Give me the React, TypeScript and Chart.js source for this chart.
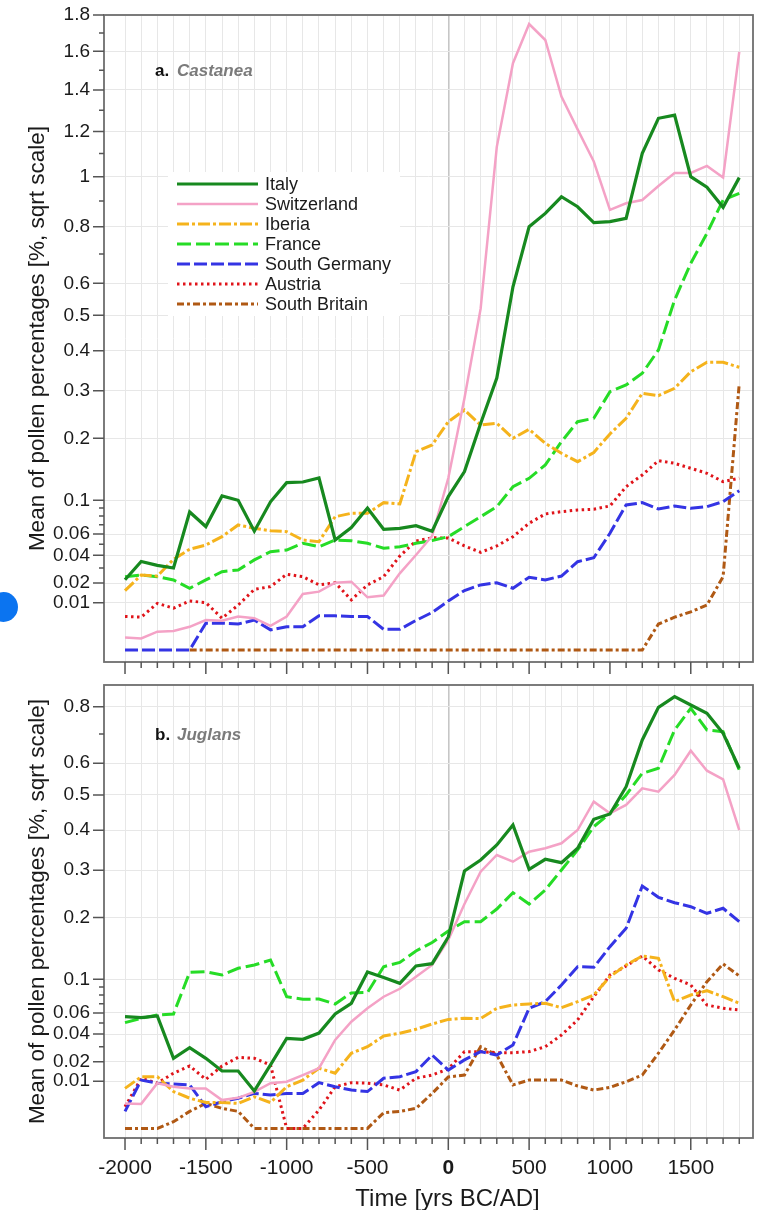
import React, { useEffect, useRef } from "react";
import { Chart, registerables } from "chart.js";

Chart.register(...registerables);

const FONT = '"Liberation Sans", Arial, Helvetica, sans-serif';

// ---------------- data ----------------
const YEARS = [
  -2000, -1900, -1800, -1700, -1600, -1500, -1400, -1300, -1200, -1100,
  -1000, -900, -800, -700, -600, -500, -400, -300, -200, -100,
  0, 100, 200, 300, 400, 500, 600, 700, 800, 900,
  1000, 1100, 1200, 1300, 1400, 1500, 1600, 1700, 1800,
];

const SERIES_NAMES = ["Italy", "Switzerland", "Iberia", "France", "South Germany", "Austria", "South Britain"];

// a. Castanea (mean pollen %)
const CASTANEA_ITALY = [
  0.022, 0.035, 0.032, 0.030, 0.085, 0.068, 0.106, 0.100, 0.063, 0.098,
  0.125, 0.126, 0.132, 0.054, 0.067, 0.090, 0.065, 0.066, 0.069, 0.063,
  0.105, 0.142, 0.229, 0.330, 0.589, 0.800, 0.851, 0.917, 0.877, 0.815,
  0.819, 0.832, 1.101, 1.262, 1.277, 1.000, 0.956, 0.875, 0.996,
];
const CASTANEA_SWITZERLAND = [
  0.0007, 0.0006, 0.0015, 0.0016, 0.0024, 0.0040, 0.0038, 0.0050, 0.0045, 0.0026,
  0.0050, 0.0140, 0.0152, 0.0202, 0.0208, 0.0124, 0.0132, 0.0262, 0.0403, 0.058,
  0.132, 0.283, 0.52, 1.13, 1.537, 1.749, 1.661, 1.367, 1.21, 1.065,
  0.865, 0.891, 0.904, 0.961, 1.016, 1.016, 1.046, 0.997, 1.597,
];
const CASTANEA_IBERIA = [
  0.0157, 0.0251, 0.0244, 0.0367, 0.0453, 0.0492, 0.0573, 0.0698, 0.0661, 0.0635,
  0.0625, 0.054, 0.0524, 0.0793, 0.0834, 0.0834, 0.0969, 0.0952, 0.1755, 0.1876,
  0.2327, 0.2571, 0.226, 0.2294, 0.2001, 0.2174, 0.1907, 0.1727, 0.1583, 0.1741,
  0.2083, 0.2397, 0.2942, 0.2887, 0.3057, 0.3457, 0.3695, 0.3695, 0.3568,
];
const CASTANEA_FRANCE = [
  0.024, 0.0251, 0.024, 0.0219, 0.017, 0.0219, 0.0274, 0.0286, 0.0362, 0.0431,
  0.0446, 0.0508, 0.0476, 0.054, 0.0533, 0.0508, 0.0462, 0.0476, 0.0508, 0.0535,
  0.0573, 0.0679, 0.0793, 0.0917, 0.119, 0.1316, 0.1528, 0.1937, 0.2327, 0.2397,
  0.2978, 0.3135, 0.3418, 0.4018, 0.5469, 0.6675, 0.7751, 0.904, 0.931,
];
const CASTANEA_SOUTH_GERMANY = [
  0, 0, 0, 0, 0, 0.0032, 0.0032, 0.0030, 0.0040, 0.0018,
  0.0024, 0.0024, 0.0052, 0.0052, 0.0050, 0.0050, 0.0019, 0.0019, 0.0039, 0.0063,
  0.0107, 0.0158, 0.0189, 0.0202, 0.017, 0.0236, 0.0219, 0.0244, 0.0348, 0.038,
  0.0608, 0.0939, 0.0969, 0.0888, 0.0926, 0.0896, 0.0917, 0.0982, 0.1133,
];
const CASTANEA_AUSTRIA = [
  0.0050, 0.0048, 0.0097, 0.0078, 0.0107, 0.0100, 0.0045, 0.0090, 0.0164, 0.0179,
  0.0256, 0.024, 0.0189, 0.0202, 0.0112, 0.0189, 0.024, 0.0394, 0.053, 0.0562,
  0.056, 0.0483, 0.0426, 0.0483, 0.0573, 0.0717, 0.0826, 0.0854, 0.0875, 0.0884,
  0.0926, 0.119, 0.1367, 0.16, 0.1556, 0.1474, 0.1394, 0.1265, 0.1316,
];
const CASTANEA_SOUTH_BRITAIN = [
  null, null, null, null, 0, 0, 0, 0, 0, 0,
  0, 0, 0, 0, 0, 0, 0, 0, 0, 0,
  0, 0, 0, 0, 0, 0, 0, 0, 0, 0,
  0, 0, 0, 0.003, 0.0048, 0.0065, 0.009, 0.024, 0.3175,
];

// b. Juglans (mean pollen %)
const JUGLANS_ITALY = [
  0.0561, 0.0551, 0.0568, 0.0221, 0.0293, 0.0221, 0.0148, 0.0148, 0.0063, 0.0181,
  0.0365, 0.0357, 0.0409, 0.0589, 0.0704, 0.110, 0.1024, 0.0947, 0.1186, 0.122,
  0.1648, 0.298, 0.324, 0.3613, 0.414, 0.302, 0.3257, 0.3176, 0.3529, 0.4298,
  0.4446, 0.5252, 0.6786, 0.7976, 0.8383, 0.8064, 0.7751, 0.7022, 0.5833,
];
const JUGLANS_SWITZERLAND = [
  0.0028, 0.0027, 0.0092, 0.0078, 0.0072, 0.0072, 0.0036, 0.0042, 0.0060, 0.0092,
  0.0098, 0.0128, 0.0163, 0.0352, 0.0512, 0.0649, 0.078, 0.0877, 0.1035, 0.1201,
  0.1597, 0.2265, 0.2964, 0.3362, 0.3199, 0.3444, 0.3529, 0.3656, 0.4005, 0.4801,
  0.4466, 0.4705, 0.5203, 0.5099, 0.5618, 0.6417, 0.5755, 0.5482, 0.4005,
];
const JUGLANS_IBERIA = [
  0.0072, 0.012, 0.012, 0.0061, 0.0041, 0.0030, 0.0030, 0.0028, 0.0045, 0.0030,
  0.0078, 0.0105, 0.0163, 0.0137, 0.0254, 0.030, 0.0384, 0.0407, 0.0442, 0.049,
  0.0534, 0.0545, 0.0542, 0.0649, 0.0685, 0.0696, 0.0704, 0.0655, 0.0722, 0.08,
  0.1035, 0.1201, 0.1337, 0.1302, 0.0722, 0.08, 0.0853, 0.078, 0.0704,
];
const JUGLANS_FRANCE = [
  0.0503, 0.0545, 0.0578, 0.0589, 0.1096, 0.1105, 0.1058, 0.1153, 0.1201, 0.1276,
  0.078, 0.075, 0.0753, 0.0696, 0.0825, 0.0831, 0.1176, 0.1238, 0.1416, 0.1555,
  0.1753, 0.1922, 0.1922, 0.2165, 0.2499, 0.2265, 0.2557, 0.3003, 0.3487, 0.4095,
  0.4466, 0.5, 0.5672, 0.5833, 0.714, 0.7939, 0.714, 0.7079, 0.5778,
];
const JUGLANS_SOUTH_GERMANY = [
  0.0013, 0.0105, 0.0092, 0.0089, 0.0085, 0.0021, 0.0032, 0.0041, 0.0055, 0.0050,
  0.0055, 0.0055, 0.0094, 0.0078, 0.0066, 0.0061, 0.0113, 0.012, 0.0145, 0.0242,
  0.0153, 0.0211, 0.0265, 0.0242, 0.0313, 0.0649, 0.0722, 0.0925, 0.1176, 0.1167,
  0.1485, 0.1801, 0.2643, 0.2402, 0.2291, 0.2211, 0.2081, 0.2179, 0.1922,
];
const JUGLANS_AUSTRIA = [
  0.0021, 0.0113, 0.0092, 0.0137, 0.0175, 0.0108, 0.0175, 0.0227, 0.0221, 0.0181,
  0, 0, 0.0015, 0.0078, 0.0094, 0.0092, 0.0085, 0.0066, 0.0113, 0.0128,
  0.0159, 0.0265, 0.0265, 0.0258, 0.0258, 0.0265, 0.030, 0.0392, 0.0529, 0.078,
  0.1058, 0.1186, 0.1337, 0.1129, 0.1013, 0.0925, 0.0685, 0.0649, 0.0631,
];
const JUGLANS_SOUTH_BRITAIN = [
  0, 0, 0, 0.0002, 0.0013, 0.0028, 0.0018, 0.0013, 0, 0,
  0, 0, 0, 0, 0, 0, 0.0011, 0.0013, 0.0018, 0.0055,
  0.0119, 0.0128, 0.030, 0.0242, 0.0085, 0.0105, 0.0105, 0.0105, 0.0081, 0.0066,
  0.0076, 0.0098, 0.0128, 0.0254, 0.0436, 0.0685, 0.0968, 0.1216, 0.1045,
];

// tick labels
const X_TICK_LABELS = [-2000, -1500, -1000, -500, 0, 500, 1000, 1500];
const Y_TICKS_A = [0.01, 0.02, 0.04, 0.06, 0.1, 0.2, 0.3, 0.4, 0.5, 0.6, 0.8, 1, 1.2, 1.4, 1.6, 1.8];
const Y_MINOR_A = [0.03, 0.05, 0.07, 0.08, 0.09, 0.7, 0.9, 1.1, 1.3, 1.5, 1.7];
const Y_TICKS_B = [0.01, 0.02, 0.04, 0.06, 0.1, 0.2, 0.3, 0.4, 0.5, 0.6, 0.8];
const Y_MINOR_B = [0.03, 0.05, 0.07, 0.08, 0.09, 0.7];

const Y_TITLE = "Mean of pollen percentages [%, sqrt scale]";
const X_TITLE = "Time [yrs BC/AD]";
const PANEL_A_LABEL = ["a.", "Castanea"];
const PANEL_B_LABEL = ["b.", "Juglans"];

// ---------------- styles ----------------
const STYLES = [
  { color: "#17891f", width: 3.2, dash: [] as number[] },
  { color: "#f4a2c6", width: 2.5, dash: [] as number[] },
  { color: "#f5b31c", width: 3, dash: [12, 3, 3, 3] },
  { color: "#26dc26", width: 3, dash: [14, 5] },
  { color: "#3434e4", width: 3, dash: [13, 4] },
  { color: "#e0141a", width: 3, dash: [2.5, 3.5] },
  { color: "#b05914", width: 3, dash: [7, 3, 3, 3] },
];

function makeDecor(panel: "a" | "b") {
  return {
    id: "decor" + panel,
    beforeDatasetsDraw(chart: any) {
      const { ctx, chartArea: a } = chart;
      ctx.save();
      ctx.textBaseline = "middle";
      const lab = panel === "a" ? PANEL_A_LABEL : PANEL_B_LABEL;
      const lx = a.left + 51;
      const ly = a.top + (panel === "a" ? 56 : 50);
      ctx.font = `bold 17px ${FONT}`;
      ctx.fillStyle = "#111";
      ctx.fillText(lab[0], lx, ly);
      ctx.font = `italic bold 17px ${FONT}`;
      ctx.fillStyle = "#7b7b7b";
      ctx.fillText(lab[1], lx + 22, ly);

      if (panel === "a") {
        ctx.fillStyle = "#ffffff";
        ctx.fillRect(a.left + 64, a.top + 157, 232, 144);
        chart.data.datasets.forEach((ds: any, i: number) => {
          const y = a.top + 169 + i * 20;
          ctx.beginPath();
          ctx.strokeStyle = ds.borderColor;
          ctx.lineWidth = ds.borderWidth;
          ctx.setLineDash(ds.borderDash || []);
          ctx.moveTo(a.left + 73, y);
          ctx.lineTo(a.left + 154, y);
          ctx.stroke();
          ctx.setLineDash([]);
          ctx.font = `18px ${FONT}`;
          ctx.fillStyle = "#1a1a1a";
          ctx.fillText(ds.label, a.left + 161, y + 1);
        });
      }
      ctx.restore();
    },
    afterDraw(chart: any) {
      const { ctx, chartArea: a, scales } = chart;
      ctx.save();
      // frame
      ctx.strokeStyle = "#6e6e6e";
      ctx.lineWidth = 1.8;
      ctx.setLineDash([]);
      ctx.strokeRect(a.left, a.top, a.right - a.left, a.bottom - a.top);
      // tick marks
      ctx.strokeStyle = "#555";
      ctx.lineWidth = 1.5;
      ctx.beginPath();
      scales.y.ticks.forEach((t: any) => {
        const py = scales.y.getPixelForValue(t.value);
        const len = t.major ? 11 : 5;
        ctx.moveTo(a.left - len, py);
        ctx.lineTo(a.left, py);
      });
      scales.x.ticks.forEach((t: any) => {
        const px = scales.x.getPixelForValue(t.value);
        const len = t.major ? 12 : 6;
        ctx.moveTo(px, a.bottom);
        ctx.lineTo(px, a.bottom + len);
      });
      ctx.stroke();
      if (panel === "b") {
        ctx.font = `24px ${FONT}`;
        ctx.fillStyle = "#1a1a1a";
        ctx.textAlign = "center";
        ctx.textBaseline = "middle";
        ctx.fillText(X_TITLE, (a.left + a.right) / 2 + 19, a.bottom + 61);
      }
      ctx.restore();
    },
  };
}

function buildConfig(panel: "a" | "b"): any {
  const isA = panel === "a";
  const series = isA
    ? [CASTANEA_ITALY, CASTANEA_SWITZERLAND, CASTANEA_IBERIA, CASTANEA_FRANCE, CASTANEA_SOUTH_GERMANY, CASTANEA_AUSTRIA, CASTANEA_SOUTH_BRITAIN]
    : [JUGLANS_ITALY, JUGLANS_SWITZERLAND, JUGLANS_IBERIA, JUGLANS_FRANCE, JUGLANS_SOUTH_GERMANY, JUGLANS_AUSTRIA, JUGLANS_SOUTH_BRITAIN];
  const major = isA ? Y_TICKS_A : Y_TICKS_B;
  const minor = isA ? Y_MINOR_A : Y_MINOR_B;
  const yTicks = [
    ...major.map((v) => ({ value: Math.sqrt(v), major: true, src: v })),
    ...minor.map((v) => ({ value: Math.sqrt(v), major: false, src: v })),
  ].sort((p, q) => p.value - q.value);

  const datasets = series.map((vals, k) => ({
    label: SERIES_NAMES[k],
    data: YEARS.map((x, i) => ({ x, y: vals[i] == null ? null : Math.sqrt(vals[i] as number) })),
    borderColor: STYLES[k].color,
    borderWidth: STYLES[k].width,
    borderDash: STYLES[k].dash,
    pointRadius: 0,
    tension: 0,
    fill: false,
    spanGaps: false,
  }));

  return {
    type: "line",
    data: { datasets },
    options: {
      responsive: false,
      animation: false,
      events: [],
      layout: { padding: { left: 0, right: 8, top: isA ? 15 : 9, bottom: 0 } },
      plugins: { legend: { display: false }, tooltip: { enabled: false } },
      scales: {
        x: {
          type: "linear",
          min: -2130,
          max: 1885,
          afterBuildTicks: (s: any) => {
            s.ticks = YEARS.map((v) => ({ value: v, major: X_TICK_LABELS.includes(v) }));
          },
          afterFit: (s: any) => {
            s.height = isA ? 18 : 72;
            s.paddingLeft = 0;
            s.paddingRight = 0;
          },
          border: { display: false },
          grid: {
            drawTicks: false,
            color: (c: any) => (c.tick && c.tick.value === 0 ? "#c6c6c6" : "#e7e7e7"),
            lineWidth: (c: any) => (c.tick && c.tick.value === 0 ? 1.6 : 1),
          },
          ticks: {
            display: !isA,
            autoSkip: false,
            maxRotation: 0,
            padding: 18,
            color: "#1a1a1a",
            font: (c: any) => ({ family: FONT, size: 21, weight: c.tick && c.tick.value === 0 ? "bold" : "normal" }),
            callback: (v: any, i: number, t: any[]) => (t[i] && t[i].major ? String(t[i].value) : ""),
          },
        },
        y: {
          type: "linear",
          min: isA ? -0.0254 : -0.0204,
          max: isA ? Math.sqrt(1.8) : 0.9404,
          afterBuildTicks: (s: any) => {
            s.ticks = yTicks.map((t) => ({ ...t }));
          },
          afterFit: (s: any) => {
            s.width = 104;
            s.paddingTop = 0;
            s.paddingBottom = 0;
          },
          border: { display: false },
          grid: {
            drawTicks: false,
            color: (c: any) => (c.tick && c.tick.major ? "#e7e7e7" : "rgba(0,0,0,0)"),
          },
          ticks: {
            autoSkip: false,
            padding: 14,
            color: "#1a1a1a",
            font: { family: FONT, size: 19 },
            callback: (v: any, i: number, t: any[]) => (t[i] && t[i].major ? String(t[i].src) : ""),
          },
          title: {
            display: true,
            text: Y_TITLE,
            color: "#1a1a1a",
            font: { family: FONT, size: 22.5 },
            padding: { top: 24, bottom: 0 },
          },
        },
      },
    },
    plugins: [makeDecor(panel)],
  };
}

function Panel({ panel, top, height }: { panel: "a" | "b"; top: number; height: number }) {
  const ref = useRef<HTMLCanvasElement>(null);
  useEffect(() => {
    const chart = new Chart(ref.current as HTMLCanvasElement, buildConfig(panel));
    return () => chart.destroy();
  }, [panel]);
  return (
    <canvas
      ref={ref}
      width={761}
      height={height}
      style={{ position: "absolute", left: 0, top, width: 761, height, display: "block" }}
    />
  );
}

export default function App() {
  return (
    <div
      style={{
        position: "absolute",
        left: 0,
        top: 0,
        width: 761,
        height: 1210,
        background: "#ffffff",
        overflow: "hidden",
      }}
    >
      <Panel panel="a" top={0} height={680} />
      <Panel panel="b" top={676} height={534} />
      <div
        style={{
          position: "absolute",
          left: -11,
          top: 592,
          width: 29,
          height: 30,
          borderRadius: "50%",
          background: "#0b74f0",
        }}
      />
    </div>
  );
}
